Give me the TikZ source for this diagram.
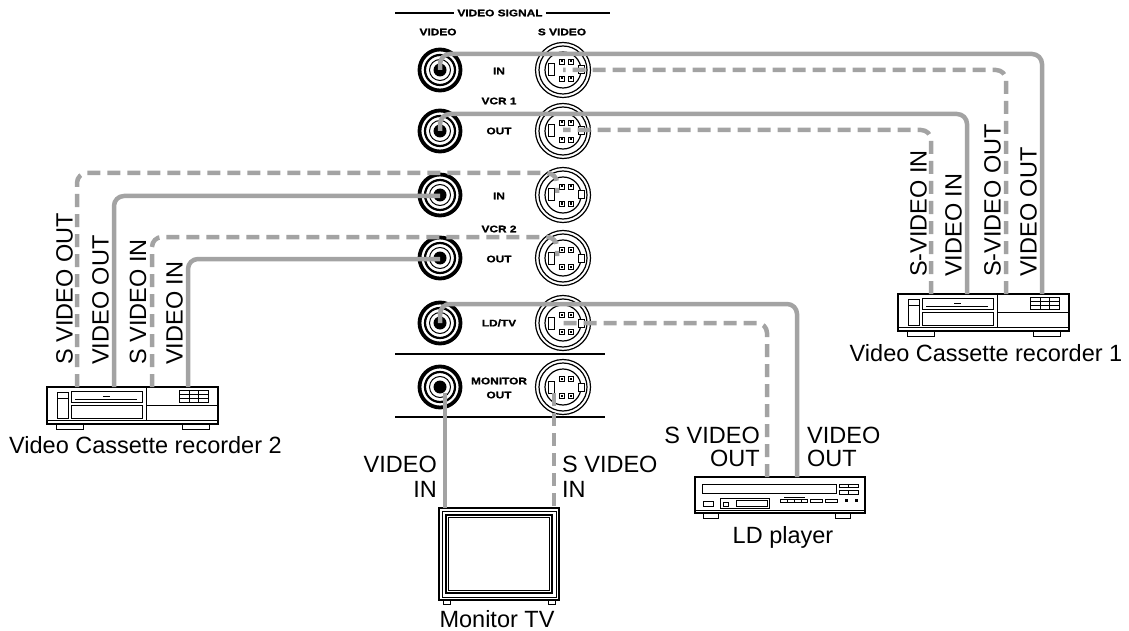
\documentclass[tikz,border=0pt]{standalone}
\usepackage{fontspec}
\setmainfont{Liberation Sans}
\newfontfamily\panelfont{Liberation Sans Bold}[FakeStretch=1.25, FakeBold=1.2]
\definecolor{cablegray}{RGB}{163,163,163}
\tikzset{
  rca/.pic={
    \draw[line width=3.8pt, fill=white] (0,0) circle[radius=20.5pt];
    \draw[line width=2.2pt] (0,0) circle[radius=15pt];
    \draw[line width=1pt] (0,0) circle[radius=10.5pt];
    \fill (0,0) circle[radius=6.5pt];
  },
  svid/.pic={
    \draw[line width=1.2pt, fill=white] (0,0) circle[radius=27.5pt];
    \draw[line width=1.2pt] (0,0) circle[radius=24pt];
    \draw[line width=1.2pt] (0,0) circle[radius=18pt];
    \draw[line width=1pt, fill=white] (-15,-6) rectangle (-9,6);
    \draw[line width=1pt, fill=white] (15,-4) rectangle (21,4);
    \foreach \p in {(-4,-11),(5,-11),(-4,6),(5,6)}
      \draw[line width=0.8pt, fill=white] \p rectangle ++(5,5);
    \foreach \p in {(-2.5,-9.5),(6.5,-9.5),(-2.5,7.5),(6.5,7.5)}
      \fill \p rectangle ++(2,2);
  },
  vcr/.pic={
    \draw[line width=1.3pt, fill=white] (0,0) rectangle (171,37);
    \draw[line width=1pt] (0,33) -- (171,33);
    \draw[line width=1pt] (10,5) rectangle (21,31);
    \draw[line width=0.8pt] (10,11) -- (21,11);
    \draw[line width=1pt] (24,4) rectangle (95,15);
    \draw[line width=0.8pt] (28,12) -- (90,12);
    \draw[line width=1.5pt] (56,9.5) -- (63,9.5);
    \draw[line width=1pt] (24,18) rectangle (95,31);
    \draw[line width=1pt] (99,0) -- (99,33);
    \draw[line width=1pt] (99,18) -- (171,18);
    \draw[line width=0.8pt] (132,3) rectangle (161,15);
    \foreach \xx in {142,151} \draw[line width=0.8pt] (\xx,3) -- (\xx,15);
    \foreach \yy in {7,11} \draw[line width=0.8pt] (132,\yy) -- (161,\yy);
    \draw[line width=1pt, fill=white] (9,37) rectangle (36,42);
    \draw[line width=1pt, fill=white] (135,37) rectangle (162,42);
  }
}
\begin{document}
\begin{tikzpicture}[x=1pt,y=-1pt,
  cab/.style={line width=4.5pt, draw=cablegray, rounded corners=10pt},
  dashcab/.style={cab, dash pattern=on 13pt off 7pt},
  lbl/.style={font=\fontsize{23.5}{25}\selectfont, inner sep=0pt},
  plbl/.style={font=\panelfont\fontsize{9.5}{10}\selectfont, inner sep=0pt},
  rlbl/.style={lbl, rotate=90, anchor=base west},
  dev/.style={line width=1.3pt, draw=black, fill=white}
]
\useasboundingbox (0,0) rectangle (1129,631);

% ---------------- panel ----------------
\node[plbl] (sig) at (500,13) {VIDEO SIGNAL};
\coordinate (sigl) at (395,13); \coordinate (sigr) at (610,13);
\draw[line width=1.5pt] (sigl) -- ([xshift=-3pt]sig.west);
\draw[line width=1.5pt] ([xshift=3pt]sig.east) -- (sigr);
\node[plbl] (hv) at (438,32) {VIDEO};
\node[plbl] (hs) at (562,32) {S VIDEO};

\coordinate (jv1) at (440,70);  \coordinate (js1) at (563,70);
\coordinate (jv2) at (440,131); \coordinate (js2) at (563,131);
\coordinate (jv3) at (440,195); \coordinate (js3) at (563,195);
\coordinate (jv4) at (440,258); \coordinate (js4) at (563,258);
\coordinate (jv5) at (440,323); \coordinate (js5) at (563,323);
\coordinate (jv6) at (440,387); \coordinate (js6) at (563,387);
\foreach \i in {1,...,6} {
  \pic at (jv\i) {rca};
  \pic at (js\i) {svid};
}
\node[plbl] (l1) at (499,71) {IN};
\node[plbl] (l2) at (499,101) {VCR 1};
\node[plbl] (l3) at (499,131) {OUT};
\node[plbl] (l4) at (499,196) {IN};
\node[plbl] (l5) at (499,229) {VCR 2};
\node[plbl] (l6) at (499,259) {OUT};
\node[plbl] (l7) at (499,323) {LD/TV};
\node[plbl] (l8) at (499,381) {MONITOR};
\node[plbl] (l9) at (499,395) {OUT};
\coordinate (sepa1) at (395,354); \coordinate (sepa2) at (605,354);
\coordinate (sepb1) at (395,417); \coordinate (sepb2) at (605,417);
\draw[line width=2pt] (sepa1) -- (sepa2);
\draw[line width=2pt] (sepb1) -- (sepb2);

% ---------------- devices ----------------
\coordinate (vcr1) at (898,294);
\coordinate (vcr2) at (47,387);
\pic at (vcr1) {vcr};
\pic at (vcr2) {vcr};
\node[lbl, anchor=base] (vcr1lbl) at (986,361) {Video Cassette recorder 1};
\node[lbl, anchor=base west] (vcr2lbl) at (9,453) {Video Cassette recorder 2};

% LD player
\coordinate (ld) at (695,477);
\draw[dev] (ld) rectangle (865,513);
\draw[line width=1pt] (702,484) rectangle (836,493);
\draw[line width=0.8pt] (839,484) rectangle (858,487.5);
\draw[line width=0.8pt] (848.5,484) -- (848.5,487.5);
\draw[line width=0.8pt] (839,490) rectangle (858,494);
\draw[line width=0.8pt] (848.5,490) -- (848.5,494);
\draw[line width=0.8pt] (703,501) rectangle (713,506);
\draw[line width=1pt] (720,498) rectangle (769,508);
\draw[line width=0.8pt] (723,502) rectangle (728,506);
\draw[line width=0.8pt] (736,500) rectangle (767,506);
\draw[line width=1.6pt] (784,497.5) -- (805,497.5);
\draw[line width=0.8pt] (780,499.5) rectangle (807,502);
\foreach \xx in {787,794,801} \draw[line width=0.6pt] (\xx,499.5) -- (\xx,502);
\draw[line width=0.8pt] (810,499.5) rectangle (822,502);
\draw[line width=0.8pt] (825,499.5) rectangle (837,502);
\fill (845,499) rectangle (848,502);
\fill (855,499) rectangle (858,502);
\draw[line width=1pt] (695,510) -- (865,510);
\draw[line width=1pt, fill=white] (703,513) rectangle (718,518);
\draw[line width=1pt, fill=white] (835,513) rectangle (850,518);
\node[lbl, anchor=base] (ldlbl) at (783,543) {LD player};

% Monitor TV
\coordinate (tv) at (439,508);
\draw[line width=1.5pt, fill=white] (tv) rectangle (559,600);
\draw[line width=0.8pt] (442,511) rectangle (556,597);
\draw[line width=1.2pt] (446,515) rectangle (552,593);
\draw[line width=0.6pt] (448.5,517.5) rectangle (549.5,590.5);
\draw[line width=1pt, fill=white] (443,600) rectangle (450,604);
\draw[line width=1pt, fill=white] (548,600) rectangle (555,604);
\node[lbl, anchor=base] (tvlbl) at (497,627) {Monitor TV};

% ---------------- cables ----------------
% VCR 1
\coordinate (c1) at (1042,294); \coordinate (c2) at (1006,294);
\coordinate (c3) at (967,294);  \coordinate (c4) at (931,294);
\draw[cab] (c1) -- (c1 |- 0,54) -- (jv1 |- 0,54) -- (jv1);
\draw[dashcab] (c2) -- (c2 |- js1) -- (js1);
\draw[cab] (c3) -- (c3 |- 0,114) -- (jv2 |- 0,114) -- (jv2);
\draw[dashcab] (c4) -- (c4 |- 0,130) -- (js2 |- 0,130);
% VCR 2
\coordinate (c5) at (77,387);  \coordinate (c6) at (114,387);
\coordinate (c7) at (152,387); \coordinate (c8) at (188,387);
\draw[dashcab] (c5) -- (c5 |- 0,173) -- (557,173) -- (557,193);
\draw[cab] (c6) -- (c6 |- 0,196) -- (jv3 |- 0,196);
\draw[dashcab] (c7) -- (c7 |- 0,237) -- (557,237) -- (557,256);
\draw[cab] (c8) -- (c8 |- 0,259) -- (jv4 |- 0,259);
% LD player
\coordinate (c9) at (797,477); \coordinate (c10) at (767,477);
\draw[cab] (c9) -- (c9 |- 0,304) -- (jv5 |- 0,304) -- (jv5);
\draw[dashcab] (c10) -- (c10 |- js5) -- (js5);
% Monitor
\coordinate (c11) at (445,508); \coordinate (c12) at (554,508);
\draw[cab] (c11 |- 0,393) -- (c11);
\draw[dashcab] (c12 |- 0,393) -- (c12);

% ---------------- cable labels ----------------
\node[rlbl] (r1) at (926.5,277) {S-VIDEO IN};
\node[rlbl] (r2) at (961.5,277) {VIDEO IN};
\node[rlbl] (r3) at (1000.5,277) {S-VIDEO OUT};
\node[rlbl] (r4) at (1036.5,277) {VIDEO OUT};
\node[rlbl] (r5) at (72.5,365) {S VIDEO OUT};
\node[rlbl] (r6) at (108.5,365) {VIDEO OUT};
\node[rlbl] (r7) at (146,365) {S VIDEO IN};
\node[rlbl] (r8) at (182.5,365) {VIDEO IN};

\node[lbl, anchor=base east] (m1) at (437,472) {VIDEO};
\node[lbl, anchor=base east] (m2) at (437,497) {IN};
\node[lbl, anchor=base west] (m3) at (562,472) {S VIDEO};
\node[lbl, anchor=base west] (m4) at (562,497) {IN};
\node[lbl, anchor=base east] (d1) at (760,443) {S VIDEO};
\node[lbl, anchor=base east] (d2) at (760,466) {OUT};
\node[lbl, anchor=base west] (d3) at (807,443) {VIDEO};
\node[lbl, anchor=base west] (d4) at (807,466) {OUT};
\end{tikzpicture}
\end{document}
